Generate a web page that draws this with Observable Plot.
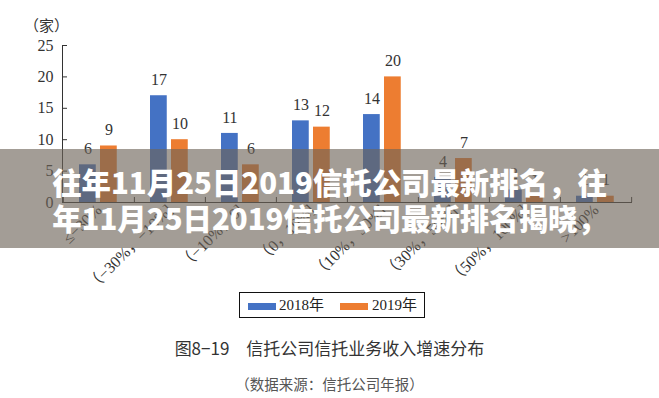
<!DOCTYPE html>
<html><head><meta charset="utf-8">
<script src="https://cdn.jsdelivr.net/npm/d3@7"></script>
<script src="https://cdn.jsdelivr.net/npm/@observablehq/plot@0.6"></script>
<style>
body{margin:0;background:#fff;}
#wrap{position:relative;width:659px;height:398px;overflow:hidden;background:#fff;}
#chart{position:absolute;left:0;top:0;}
.legend{position:absolute;left:239px;top:292px;width:186px;height:26px;border:1px solid #111;box-sizing:border-box;font-family:"Liberation Serif","Noto Sans CJK SC",serif;font-size:15px;color:#222;}
.legend .sw{position:absolute;top:10px;width:28px;height:7px;}
.legend .lb{position:absolute;top:3px;line-height:18px;}
.caption{position:absolute;left:0;width:659px;text-align:center;top:339px;line-height:18px;font-family:"Noto Sans CJK SC",sans-serif;font-size:17px;color:#333;}
.source{position:absolute;left:0;width:659px;text-align:center;top:376px;line-height:16px;font-family:"Noto Sans CJK SC",sans-serif;font-size:14.5px;color:#555;}
.banner{position:absolute;left:0;top:149px;width:659px;height:99px;background:rgba(110,100,88,0.63);}
.banner div{position:absolute;left:0;width:659px;text-align:center;font-family:"Noto Sans CJK SC",sans-serif;font-weight:900;font-size:29.4px;line-height:36px;color:#fff;white-space:nowrap;}
</style></head>
<body><div id="wrap"><div id="chart"></div>
<div class="legend"></div>
<div class="caption"></div>
<div class="source"></div>
<div class="banner"><div id="b1" style="top:14px"></div><div id="b2" style="top:50px"></div></div>
</div>
<script>
const categories = ["≤−30%","（−30%，−10%]","（−10%，0]","（0，10%]","（10%，30%]","（30%，50%]","（50%，100%]",">100%"];
const values2018 = [6,17,11,13,14,4,2,1];
const values2019 = [9,10,6,12,20,7,1,1];
const seriesNames = ["2018年","2019年"];
const seriesColors = ["#4472C4","#ED7D31"];
const yTicks = [0,5,10,15,20,25];
const yUnit = "（家）";
const captionText = "图8−19　信托公司信托业务收入增速分布";
const sourceText = "（数据来源：信托公司年报）";
const bannerLines = ["往年11月25日2019信托公司最新排名，往","年11月25日2019信托公司最新排名揭晓，"];

const d18 = categories.map((c,i)=>({cat:c, v:values2018[i]}));
const d19 = categories.map((c,i)=>({cat:c, v:values2019[i]}));
const bw = (632-62)/categories.length;
const serif = "Liberation Serif, Noto Sans CJK SC, serif";
const axisColor = "#333";

const plot = Plot.plot({
  width: 659, height: 295,
  marginLeft: 62, marginRight: 27, marginTop: 45, marginBottom: 93,
  style: {fontFamily: serif, background: "transparent"},
  x: {type: "band", domain: categories, padding: 0, label: null},
  y: {domain: [0,25], label: null},
  marks: [
    Plot.barY(d18, {x:"cat", y:"v", fill: seriesColors[0], insetLeft: 16, insetRight: bw-33}),
    Plot.barY(d19, {x:"cat", y:"v", fill: seriesColors[1], insetLeft: 37, insetRight: bw-54}),
    Plot.text(d18, {x:"cat", y:"v", text:"v", dx: 24.5-bw/2, dy:-16, fontSize:16, fill:"#333"}),
    Plot.text(d19, {x:"cat", y:"v", text:"v", dx: 45.5-bw/2, dy:-16, fontSize:16, fill:"#333"}),
    Plot.ruleY([0], {stroke: axisColor}),
    Plot.frame({anchor:"left", stroke: axisColor}),
    Plot.ruleX(categories, {x: d=>d, dx: -bw/2, y1: 0, y2: 0.8, stroke: axisColor}),
    Plot.ruleX([categories[categories.length-1]], {x: d=>d, dx: bw/2, y1: 0, y2: 0.8, stroke: axisColor}),
    Plot.axisY(yTicks, {tickSize: -5, tickPadding: 14, fontSize: 16, fill:"#333", stroke: axisColor}),
    Plot.axisX({tickSize: 0, tickPadding: 5, tickRotate: -45, fontSize: 16, fill:"#333"}),
    Plot.text([yUnit], {frameAnchor:"top-left", dx: -16, dy: -25, fontSize: 15, fill:"#333", textAnchor:"middle"})
  ]
});
document.getElementById("chart").appendChild(plot);

const lg = document.querySelector(".legend");
const swX = [8, 100], lbX = [39, 132];
seriesNames.forEach((n,i)=>{
  const s = document.createElement("div"); s.className="sw"; s.style.left=swX[i]+"px"; s.style.background=seriesColors[i]; lg.appendChild(s);
  const t = document.createElement("div"); t.className="lb"; t.style.left=lbX[i]+"px"; t.textContent=n; lg.appendChild(t);
});
document.querySelector(".caption").textContent = captionText;
document.querySelector(".source").textContent = sourceText;
document.getElementById("b1").textContent = bannerLines[0];
document.getElementById("b2").textContent = bannerLines[1];
</script></body></html>
